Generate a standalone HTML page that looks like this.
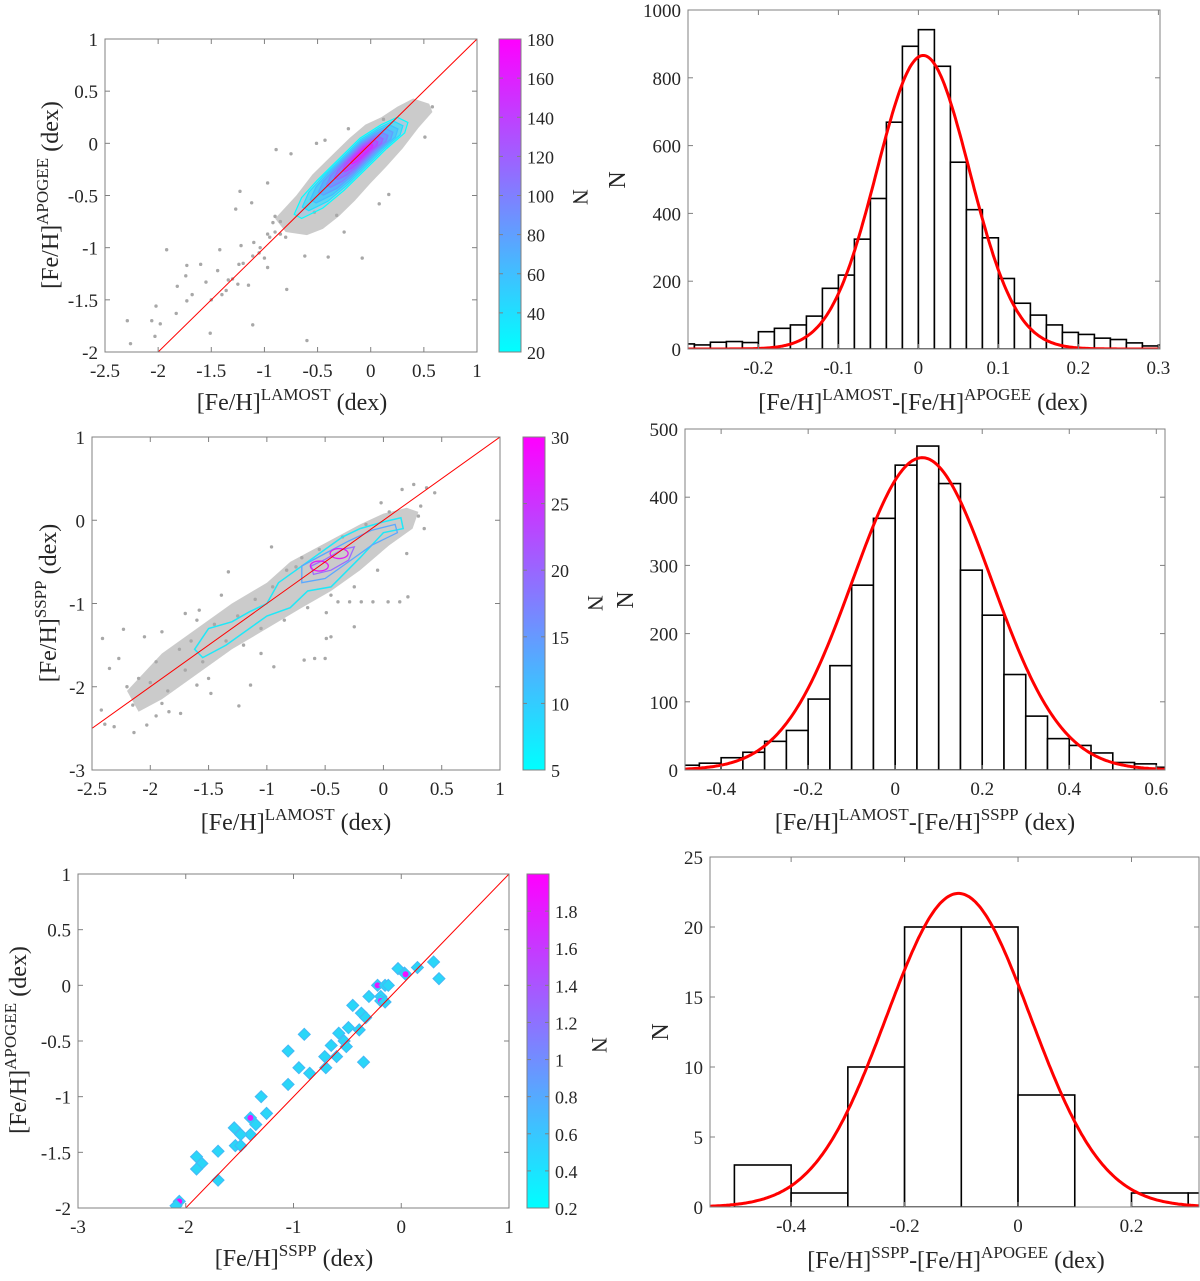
<!DOCTYPE html>
<html><head><meta charset="utf-8">
<style>
html,body{margin:0;padding:0;background:#fff;}
svg, svg text, svg tspan{font-family:"Liberation Serif","DejaVu Serif",serif;}
svg text{fill:#262626;}
</style></head>
<body>
<svg id="fig" xmlns="http://www.w3.org/2000/svg" width="1200" height="1276" viewBox="0 0 1200 1276" font-family="Liberation Serif, DejaVu Serif, serif">
<defs>
<linearGradient id="cool" x1="0" y1="1" x2="0" y2="0"><stop offset="0" stop-color="#00ffff"/><stop offset="1" stop-color="#ff00ff"/></linearGradient>
</defs>
</svg>
<script>
// ---------- Histogram data ----------
const hist1Start = -0.30, hist1Width = 0.02;
const hist1Counts = [15,12,20,22,19,51,61,71,97,179,218,324,444,669,893,942,834,551,411,328,208,135,100,71,49,43,32,28,18,9,12];
const hist1Fit = [866, 0.006, 0.058];
const hist2Start = -0.5, hist2Width = 0.05;
const hist2Counts = [7,10,18,26,42,58,104,153,271,369,447,475,420,293,227,140,79,46,36,25,11,9,4];
const hist2Fit = [458, 0.062, 0.16];
const hist3Start = -0.5, hist3Width = 0.1;
const hist3Counts = [3,1,10,20,20,8,0,1,1];
const hist3Fit = [22.4, -0.105, 0.127];

// ---------- Scatter panel 1 (LAMOST vs APOGEE) ----------
const sc1X = [-2.29,-2.26,-2.06,-2.02,-1.98,-2.03,-1.92,-1.82,-1.83,-1.73,-1.73,-1.74,-1.68,-1.60,-1.55,-1.51,-1.42,-1.44,-1.36,-1.34,-1.27,-1.23,-1.22,-1.24,-1.15,-1.12,-1.11,-1.11,-1.04,-0.97,-0.97,-0.89,-0.75,-0.97,-0.92,-0.85,-0.79,-0.62,-0.40,-0.08,-0.60,-0.25,0.17,0.51,-0.51,-0.43,-0.21,0.08,-0.53,-0.32,0.58,0.12,-1.3,-1.2,-1.05,-0.95,-0.9,-1.4,-1.5,-1.25,-1.1,-1.0,-0.85,-0.8,-0.9];
const sc1Y = [-1.70,-1.92,-1.70,-1.56,-1.73,-1.85,-1.02,-1.37,-1.63,-1.51,-1.17,-1.27,-1.45,-1.16,-1.33,-1.82,-1.02,-1.22,-1.41,-1.31,-0.63,-0.46,-0.98,-1.16,-1.36,-0.57,-1.74,-1.08,-1.0,-0.87,-1.19,-0.06,-0.10,-0.38,-0.76,-0.87,-1.40,-1.08,-1.09,-1.10,-1.89,-0.85,-0.49,0.06,0,0.03,0.14,-0.58,-0.66,-0.69,0.35,0.23,-1.3,-1.15,-1.05,-0.9,-0.85,-1.45,-1.5,-1.35,-0.95,-1.1,-0.75,-0.9,-0.7];
const sc1CloudX = [-0.9,-0.7,-0.55,-0.35,-0.2,-0.05,0.1,0.25,0.4,0.55,0.58,0.45,0.3,0.15,0.0,-0.15,-0.3,-0.45,-0.6,-0.8];
const sc1CloudY = [-0.72,-0.5,-0.3,-0.1,0.05,0.18,0.25,0.35,0.43,0.38,0.3,0.15,-0.05,-0.22,-0.38,-0.55,-0.7,-0.82,-0.88,-0.85];
const sc1ContX = [-0.72,-0.65,-0.5,-0.3,-0.1,0.1,0.25,0.35,0.32,0.15,-0.05,-0.25,-0.45,-0.65];
const sc1ContY = [-0.68,-0.52,-0.35,-0.15,0.05,0.18,0.25,0.2,0.1,-0.05,-0.25,-0.45,-0.62,-0.72];
const sc1Levels = [20,40,60,80,100,120,140,160];
const sc1Center = [-0.06,-0.07];

// ---------- Scatter panel 2 (LAMOST vs SSPP) ----------
const sc2X = [-2.41,-2.35,-2.42,-2.39,-2.31,-2.27,-2.23,-2.15,-2.14,-2.05,-2.03,-1.95,-1.9,-1.84,-1.74,-1.7,-1.6,-1.58,-1.48,-1.39,-1.33,-1.24,-1.14,-1.05,-0.96,-0.94,-0.83,-0.75,-0.68,-0.59,-0.5,-0.49,-0.49,-0.45,-0.25,-0.39,-0.29,-0.19,-0.09,0.04,0.14,0.21,0.26,0.37,0.44,0.32,0.16,-0.02,-1.95,-2.0,-1.85,-1.75,-1.65,-1.55,-1.45,-1.35,-1.25,-1.2,-1.1,-1.05,-0.95,-0.85,-0.7,-0.65,-0.55,-0.45,-0.35,-0.25,-0.15,-0.05,0.05,0.2,0.3,0.35,-1.6,-1.7,-2.1,-2.2,-1.9,-1.5];
const sc2Y = [-1.42,-1.78,-2.28,-2.45,-2.48,-1.66,-1.31,-2.22,-2.55,-1.4,-2.46,-2.35,-1.34,-2.3,-2.32,-1.12,-1.98,-1.08,-2.08,-0.9,-0.62,-2.23,-1.98,-1.6,-0.32,-1.76,-0.6,-0.56,-1.68,-1.66,-1.66,-1.11,-1.42,-1.4,-1.28,-0.98,-0.98,-0.98,-0.98,-0.98,-0.98,-0.92,0.43,0.39,0.33,0.17,0.37,0.21,-1.7,-1.95,-2.05,-1.55,-1.45,-1.7,-1.25,-1.45,-1.15,-1.5,-0.95,-1.3,-0.8,-1.2,-0.45,-1.05,-0.35,-0.9,-0.2,-0.8,-0.05,-0.6,0.1,-0.4,0.05,-0.1,-1.2,-1.8,-1.9,-2.0,-2.2,-1.9];
const sc2CloudX = [-2.2,-1.9,-1.6,-1.3,-1.0,-0.8,-0.6,-0.4,-0.2,0.0,0.2,0.3,0.25,0.05,-0.2,-0.45,-0.7,-1.0,-1.3,-1.6,-1.9,-2.1];
const sc2CloudY = [-2.05,-1.6,-1.3,-1.0,-0.75,-0.5,-0.35,-0.2,-0.05,0.08,0.15,0.1,-0.1,-0.3,-0.6,-0.85,-1.05,-1.3,-1.55,-1.85,-2.15,-2.3];
const sc2OuterX = [-1.62,-1.5,-1.3,-1.15,-1.0,-0.9,-0.75,-0.65,-0.5,-0.35,-0.2,0.0,0.15,0.17,0.0,-0.2,-0.45,-0.65,-0.8,-1.0,-1.15,-1.35,-1.55];
const sc2OuterY = [-1.55,-1.3,-1.22,-1.1,-1.0,-0.75,-0.6,-0.5,-0.35,-0.2,-0.1,-0.02,0.03,-0.1,-0.15,-0.45,-0.8,-0.85,-1.05,-1.15,-1.3,-1.5,-1.65];
const sc2MidX = [-0.7,-0.5,-0.3,-0.1,0.1,0.12,-0.1,-0.3,-0.5,-0.7];
const sc2MidY = [-0.55,-0.4,-0.25,-0.12,-0.05,-0.15,-0.3,-0.5,-0.7,-0.75];
const sc2InX = [-0.62,-0.5,-0.35,-0.25,-0.3,-0.45,-0.6];
const sc2InY = [-0.55,-0.47,-0.35,-0.32,-0.48,-0.6,-0.65];
const sc2PeakX = [-0.55,-0.38];
const sc2PeakY = [-0.55,-0.4];

// ---------- Scatter panel 3 (SSPP vs APOGEE) ----------
const sc3X = [0.30,0.35,0.15,-0.03,0.03,0.04,-0.22,-0.15,-0.12,-0.3,-0.19,-0.19,-0.15,-0.45,-0.37,-0.33,-0.39,-0.49,-0.58,-0.53,-0.51,-0.65,-0.6,-0.71,-0.7,-0.35,-0.9,-1.05,-0.95,-0.85,-1.05,-1.3,-1.25,-1.4,-1.35,-1.4,-1.55,-1.49,-1.54,-1.49,-1.7,-1.9,-1.85,-1.9,-1.7,-2.06,-2.09];
const sc3Y = [0.21,0.06,0.16,0.15,0.11,0.10,0.0,0.0,0.0,-0.1,-0.1,-0.14,-0.15,-0.18,-0.25,-0.29,-0.4,-0.38,-0.43,-0.5,-0.55,-0.54,-0.64,-0.64,-0.74,-0.69,-0.44,-0.59,-0.74,-0.79,-0.89,-1.0,-1.15,-1.19,-1.25,-1.34,-1.28,-1.34,-1.44,-1.44,-1.49,-1.54,-1.6,-1.65,-1.75,-1.94,-1.98];
const sc3N = [0.3,0.3,0.3,0.5,0.6,1.9,1.8,0.8,0.6,0.5,0.7,1.7,0.5,0.3,0.6,0.5,0.3,0.6,0.7,0.8,0.6,0.4,0.3,0.3,0.3,0.3,0.3,0.3,0.3,0.3,0.3,0.4,0.3,1.8,0.6,0.4,0.5,0.6,0.6,0.6,0.3,0.5,0.6,0.4,0.3,1.9,0.5];

// ---------- Tick arrays ----------
const ticksSc1X = [-2.5,-2,-1.5,-1,-0.5,0,0.5,1];
const ticksSc1Y = [-2,-1.5,-1,-0.5,0,0.5,1];
const ticksSc2Y = [-3,-2,-1,0,1];
const ticksSc3X = [-3,-2,-1,0,1];
const ticksCb1 = [20,40,60,80,100,120,140,160,180];
const ticksCb2 = [5,10,15,20,25,30];
const ticksCb3 = [0.2,0.4,0.6,0.8,1,1.2,1.4,1.6,1.8];
const ticksH1X = [-0.2,-0.1,0,0.1,0.2,0.3];
const ticksH1Y = [0,200,400,600,800,1000];
const ticksH2X = [-0.4,-0.2,0,0.2,0.4,0.6];
const ticksH2Y = [0,100,200,300,400,500];
const ticksH3X = [-0.4,-0.2,0,0.2];
const ticksH3Y = [0,5,10,15,20,25];

const NS = 'http://www.w3.org/2000/svg';
const FONT = '"Liberation Serif", "DejaVu Serif", serif';
const svg = document.getElementById('fig');
let clipId = 0;
function el(tag, attrs, parent){
  const e = document.createElementNS(NS, tag);
  for (const k in attrs) e.setAttribute(k, attrs[k]);
  if (tag === 'text') { e.style.fontFamily = FONT; }
  (parent||svg).appendChild(e);
  return e;
}
function fmt(v){ return (Math.round(v*1000)/1000).toString(); }
function coolColor(t){ t=Math.max(0,Math.min(1,t)); return 'rgb('+Math.round(255*t)+','+Math.round(255*(1-t))+',255)'; }

function makeAxes(name, box, xr, yr){
  const g = el('g', {});
  
  
  const sx = v => box.x0 + (v - xr[0])/(xr[1]-xr[0])*(box.x1-box.x0);
  const sy = v => box.y1 - (v - yr[0])/(yr[1]-yr[0])*(box.y1-box.y0);
  clipId++;
  const cp = el('clipPath', {id:'c'+clipId}, g);
  el('rect', {x:box.x0, y:box.y0, width:box.x1-box.x0, height:box.y1-box.y0}, cp);
  const plot = el('g', {'clip-path':'url(#c'+clipId+')'}, g);
  
  
  return {g, plot, sx, sy, box};
}
function drawFrame(ax, xt, yt, name){
  const b = ax.box;
  const fr = el('g', {}, ax.g);
  
  
  el('rect', {x:b.x0, y:b.y0, width:b.x1-b.x0, height:b.y1-b.y0, fill:'none', stroke:'#808080', 'stroke-width':1}, fr);
  xt.forEach(v => {
    const x = ax.sx(v);
    el('line', {x1:x, y1:b.y1, x2:x, y2:b.y1-5, stroke:'#808080'}, fr);
    el('line', {x1:x, y1:b.y0, x2:x, y2:b.y0+5, stroke:'#808080'}, fr);
    const t = el('text', {x:x, y:b.y1+25, 'text-anchor':'middle', 'font-size':19}, fr);
    t.textContent = fmt(v);
    
    
  });
  yt.forEach(v => {
    const y = ax.sy(v);
    el('line', {x1:b.x0, y1:y, x2:b.x0+5, y2:y, stroke:'#808080'}, fr);
    el('line', {x1:b.x1, y1:y, x2:b.x1-5, y2:y, stroke:'#808080'}, fr);
    const t = el('text', {x:b.x0-7, y:y+7, 'text-anchor':'end', 'font-size':19}, fr);
    t.textContent = fmt(v);
    
    
  });
}
function label(parts, x, y, rot, name){
  const t = el('text', {x:0, y:0, 'font-size':24, 'text-anchor':'middle', transform:'translate('+x+','+y+') rotate('+rot+')'});
  
  
  parts.forEach(p => {
    const s = el('tspan', {}, t);
    s.style.fontFamily = FONT;
    if (p[1]==='sup'){ s.setAttribute('dy','-10'); s.setAttribute('font-size','17'); }
    else if (p[1]==='base'){ s.setAttribute('dy','10'); }
    s.textContent = p[0];
  });
}
function colorbar(name, box, range, ticks, nx, ny){
  const g = el('g', {});
  
  
  el('rect', {x:box.x0, y:box.y0, width:box.x1-box.x0, height:box.y1-box.y0, fill:'url(#cool)', stroke:'#808080'}, g);
  ticks.forEach(v => {
    const y = box.y1 - (v-range[0])/(range[1]-range[0])*(box.y1-box.y0);
    el('line', {x1:box.x0, y1:y, x2:box.x0+4, y2:y, stroke:'#808080'}, g);
    el('line', {x1:box.x1, y1:y, x2:box.x1-4, y2:y, stroke:'#808080'}, g);
    const t = el('text', {x:box.x1+6, y:y+7, 'font-size':18}, g);
    t.textContent = fmt(v);
    
    
  });
  const n = el('text', {x:0, y:0, 'font-size':22, 'text-anchor':'middle', transform:'translate('+nx+','+ny+') rotate(90)'}, g);
  n.textContent = 'N';
  
  
}
function poly(ax, xs, ys, attrs, name){
  const pts = xs.map((x,i)=>ax.sx(x).toFixed(1)+','+ax.sy(ys[i]).toFixed(1)).join(' ');
  const p = el('polygon', Object.assign({points:pts}, attrs), ax.plot);
  
  
  return p;
}
function scaledPoly(ax, xs, ys, c, f, attrs, name){
  const nx = xs.map(x => c[0] + (x-c[0])*f);
  const ny = ys.map(y => c[1] + (y-c[1])*f);
  return poly(ax, nx, ny, attrs, name);
}
function dots(ax, xs, ys){
  xs.forEach((x,i) => {
    const d = el('circle', {cx:ax.sx(x), cy:ax.sy(ys[i]), r:1.7, fill:'#a8a8a8'}, ax.plot);
    
    
  });
}
function oneToOne(ax, xr){
  const l = el('line', {x1:ax.sx(xr[0]), y1:ax.sy(xr[0]), x2:ax.sx(xr[1]), y2:ax.sy(xr[1]), stroke:'#ff0000', 'stroke-width':1}, ax.plot);
  
  
}
function histogram(ax, start, width, counts, fit, xr){
  counts.forEach((c,i) => {
    const a = start + i*width;
    const x0 = ax.sx(a), x1 = ax.sx(a+width);
    const r = el('rect', {x:x0, y:ax.sy(c), width:x1-x0, height:ax.sy(0)-ax.sy(c), fill:'#fff', stroke:'#000', 'stroke-width':1.6}, ax.plot);
    
    
  });
  const pts = [];
  for (let k=0;k<=300;k++){
    const x = xr[0] + (xr[1]-xr[0])*k/300;
    const y = fit[0]*Math.exp(-Math.pow(x-fit[1],2)/(2*fit[2]*fit[2]));
    pts.push(ax.sx(x).toFixed(1)+','+ax.sy(y).toFixed(1));
  }
  const p = el('polyline', {points:pts.join(' '), fill:'none', stroke:'#ff0000', 'stroke-width':3}, ax.plot);
  
  
}

// ===== Panel 1 =====
(function(){
  const xr=[-2.5,1], yr=[-2,1];
  const ax = makeAxes('scatter-lamost-apogee', {x0:105,x1:477,y0:39,y1:352}, xr, yr);
  poly(ax, sc1CloudX, sc1CloudY, {fill:'#c2c2c2', 'fill-opacity':0.85}, 'dense-point-cloud');
  dots(ax, sc1X, sc1Y);
  sc1Levels.forEach((lv,i) => {
    const f = 1 - i/sc1Levels.length*0.92;
    const t = (lv-20)/160;
    scaledPoly(ax, sc1ContX, sc1ContY, sc1Center, f,
      {fill: i===0 ? 'rgba(120,200,255,0.35)' : coolColor(t), 'fill-opacity': i===0?1:0.55, stroke: coolColor(t), 'stroke-width':1.2}, 'density-contour');
  });
  oneToOne(ax, xr);
  drawFrame(ax, ticksSc1X, ticksSc1Y, 'scatter-lamost-apogee');
  colorbar('colorbar-1', {x0:499,x1:521,y0:39,y1:352}, [20,180], ticksCb1, 573, 197);
  label([['[Fe/H]'],['LAMOST','sup'],[' (dex)','base']], 292, 410, 0, 'x-axis-title');
  label([['[Fe/H]'],['APOGEE','sup'],[' (dex)','base']], 58, 195, -90, 'y-axis-title');
})();

// ===== Panel 2 =====
(function(){
  const xr=[-0.288,0.302], yr=[0,1000];
  const ax = makeAxes('hist-lamost-apogee', {x0:688,x1:1160,y0:10,y1:349}, xr, yr);
  histogram(ax, hist1Start, hist1Width, hist1Counts, hist1Fit, xr);
  drawFrame(ax, ticksH1X, ticksH1Y, 'hist-lamost-apogee');
  label([['[Fe/H]'],['LAMOST','sup'],['-[Fe/H]','base'],['APOGEE','sup'],[' (dex)','base']], 923, 410, 0, 'x-axis-title');
  label([['N']], 625, 180, -90, 'y-axis-title');
})();

// ===== Panel 3 =====
(function(){
  const xr=[-2.5,1], yr=[-3,1];
  const ax = makeAxes('scatter-lamost-sspp', {x0:92,x1:500,y0:437,y1:770}, xr, yr);
  poly(ax, sc2CloudX, sc2CloudY, {fill:'#c2c2c2', 'fill-opacity':0.85}, 'dense-point-cloud');
  dots(ax, sc2X, sc2Y);
  poly(ax, sc2OuterX, sc2OuterY, {fill:'none', stroke:'#1ee8f8', 'stroke-width':1.5}, 'contour-level-5');
  poly(ax, sc2MidX, sc2MidY, {fill:'none', stroke:'#5aa8ff', 'stroke-width':1.3}, 'contour-level-15');
  poly(ax, sc2InX, sc2InY, {fill:'none', stroke:'#9a6cff', 'stroke-width':1.3}, 'contour-level-20');
  sc2PeakX.forEach((x,i) => {
    const e = el('ellipse', {cx:ax.sx(x), cy:ax.sy(sc2PeakY[i]), rx:9, ry:5, fill:'none', stroke:'#e020f0', 'stroke-width':1.3}, ax.plot);
    
    
  });
  oneToOne(ax, xr);
  drawFrame(ax, ticksSc1X, ticksSc2Y, 'scatter-lamost-sspp');
  colorbar('colorbar-2', {x0:523,x1:545,y0:437,y1:770}, [5,30], ticksCb2, 588, 603);
  label([['[Fe/H]'],['LAMOST','sup'],[' (dex)','base']], 296, 830, 0, 'x-axis-title');
  label([['[Fe/H]'],['SSPP','sup'],[' (dex)','base']], 56, 603, -90, 'y-axis-title');
})();

// ===== Panel 4 =====
(function(){
  const xr=[-0.483,0.62], yr=[0,500];
  const ax = makeAxes('hist-lamost-sspp', {x0:685,x1:1165,y0:429,y1:770}, xr, yr);
  histogram(ax, hist2Start, hist2Width, hist2Counts, hist2Fit, xr);
  drawFrame(ax, ticksH2X, ticksH2Y, 'hist-lamost-sspp');
  label([['[Fe/H]'],['LAMOST','sup'],['-[Fe/H]','base'],['SSPP','sup'],[' (dex)','base']], 925, 830, 0, 'x-axis-title');
  label([['N']], 633, 600, -90, 'y-axis-title');
})();

// ===== Panel 5 =====
(function(){
  const xr=[-3,1], yr=[-2,1];
  const ax = makeAxes('scatter-sspp-apogee', {x0:78,x1:509,y0:874,y1:1208}, xr, yr);
  sc3X.forEach((x,i) => {
    const cx = ax.sx(x), cy = ax.sy(sc3Y[i]);
    const d = el('polygon', {points:(cx)+','+(cy-6)+' '+(cx+6)+','+cy+' '+cx+','+(cy+6)+' '+(cx-6)+','+cy, fill:'#2ad6f8', stroke:'#45b8f5', 'stroke-width':1}, ax.plot);
    
    
    if (sc3N[i] > 1.2){
      const c = el('circle', {cx:cx, cy:cy, r:3, fill:coolColor((sc3N[i]-0.2)/1.8)}, ax.plot);
      
      
    }
  });
  oneToOne(ax, xr);
  drawFrame(ax, ticksSc3X, ticksSc1Y, 'scatter-sspp-apogee');
  colorbar('colorbar-3', {x0:527,x1:549,y0:874,y1:1208}, [0.2,2.0], ticksCb3, 592, 1045);
  label([['[Fe/H]'],['SSPP','sup'],[' (dex)','base']], 294, 1266, 0, 'x-axis-title');
  label([['[Fe/H]'],['APOGEE','sup'],[' (dex)','base']], 26, 1040, -90, 'y-axis-title');
})();

// ===== Panel 6 =====
(function(){
  const xr=[-0.543,0.319], yr=[0,25];
  const ax = makeAxes('hist-sspp-apogee', {x0:710,x1:1199,y0:857,y1:1207}, xr, yr);
  histogram(ax, hist3Start, hist3Width, hist3Counts, hist3Fit, xr);
  drawFrame(ax, ticksH3X, ticksH3Y, 'hist-sspp-apogee');
  label([['[Fe/H]'],['SSPP','sup'],['-[Fe/H]','base'],['APOGEE','sup'],[' (dex)','base']], 956, 1268, 0, 'x-axis-title');
  label([['N']], 668, 1032, -90, 'y-axis-title');
})();
</script>
</body></html>
